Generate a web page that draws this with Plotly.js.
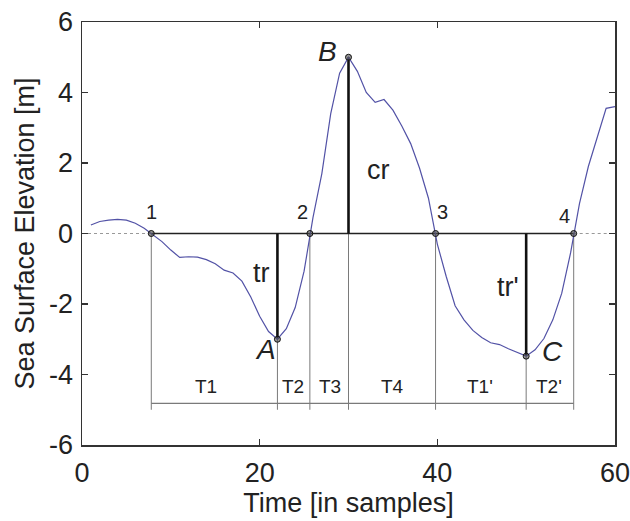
<!DOCTYPE html>
<html>
<head>
<meta charset="utf-8">
<script src="https://cdn.plot.ly/plotly-3.0.1.min.js"></script>
<style>html,body{margin:0;padding:0;background:#fff;}#chart{width:630px;height:521px;}</style>
</head>
<body>
<div id="chart"></div>
<script>
// ---- data ----
const time = [];
for (let i = 1; i <= 60; i++) time.push(i);
const elevation = [
  0.24, 0.34, 0.38, 0.40, 0.38, 0.29, 0.15, -0.05, -0.23, -0.47,
  -0.68, -0.66, -0.67, -0.74, -0.86, -1.04, -1.12, -1.35, -1.80, -2.35,
  -2.78, -3.00, -2.70, -2.10, -1.07, 0.45, 1.70, 3.40, 4.55, 5.00,
  4.60, 4.00, 3.72, 3.80, 3.50, 3.05, 2.55, 1.85, 1.00, -0.30,
  -1.22, -2.05, -2.45, -2.75, -2.95, -3.10, -3.15, -3.27, -3.38, -3.48,
  -3.30, -2.98, -2.45, -1.70, -0.55, 0.85, 1.90, 2.75, 3.55, 3.60
];
const crossX = [7.8, 25.65, 39.8, 55.35];       // zero crossings 1..4
const crossLabels = ['1', '2', '3', '4'];
const extremaX = [22, 30, 50];                  // A, B, C
const extremaY = [-3.0, 5.0, -3.48];
const extremaLabels = ['A', 'B', 'C'];
const heightLabels = ['tr', 'cr', "tr'"];
const periodLabels = ['T1', 'T2', 'T3', 'T4', "T1'", "T2'"];
const bracketY = -4.82;
const bracketBottom = -5.0;
const xTicks = [0, 20, 40, 60];
const yTicks = [-6, -4, -2, 0, 2, 4, 6];

// ---- traces ----
const traces = [];
traces.push({x: [0, crossX[0], null, crossX[3], 60], y: [0, 0, null, 0, 0], mode: 'lines',
  line: {color: '#999', width: 1.2, dash: 'dot'}, hoverinfo: 'skip'});
const allV = [crossX[0], extremaX[0], crossX[1], extremaX[1], crossX[2], extremaX[2], crossX[3]].sort((a,b)=>a-b);
const vx = [], vy = [];
allV.forEach(v => { vx.push(v, v, null); vy.push(0, bracketBottom, null); });
traces.push({x: vx, y: vy, mode: 'lines', line: {color: '#7a7a7a', width: 1}, hoverinfo: 'skip'});
traces.push({x: [crossX[0], crossX[3]], y: [bracketY, bracketY], mode: 'lines',
  line: {color: '#7a7a7a', width: 1.2}, hoverinfo: 'skip'});
traces.push({x: [crossX[0], crossX[3]], y: [0, 0], mode: 'lines',
  line: {color: '#222', width: 1.6}, hoverinfo: 'skip'});
const hx = [], hy = [];
extremaX.forEach((v, i) => { hx.push(v, v, null); hy.push(0, extremaY[i], null); });
traces.push({x: hx, y: hy, mode: 'lines', line: {color: '#111', width: 2.6}, hoverinfo: 'skip'});
traces.push({x: time, y: elevation, mode: 'lines', line: {color: '#5252a6', width: 1.2}});
traces.push({x: crossX.concat(extremaX), y: crossX.map(()=>0).concat(extremaY), mode: 'markers',
  marker: {size: 6, color: 'rgba(80,80,80,0.6)', line: {color: '#111', width: 1}}, hoverinfo: 'skip'});

// ---- annotations ----
const font = 'Liberation Sans, Arial, Helvetica, sans-serif';
const ann = [];
const crossLabelPos = [[7.8, 0.62], [24.8, 0.62], [40.6, 0.62], [54.3, 0.5]];
crossLabels.forEach((t, i) => ann.push({x: crossLabelPos[i][0], y: crossLabelPos[i][1], text: t,
  showarrow: false, font: {size: 20, color: '#222', family: font}}));
const extLabelPos = [[20.6, -3.3], [27.6, 5.15], [53.0, -3.35]];
extremaLabels.forEach((t, i) => ann.push({x: extLabelPos[i][0], y: extLabelPos[i][1],
  text: '<i>' + t + '</i>', showarrow: false, font: {size: 28, color: '#222', family: font}}));
const hLabelPos = [[20.2, -1.12], [33.4, 1.8], [48.0, -1.52]];
heightLabels.forEach((t, i) => ann.push({x: hLabelPos[i][0], y: hLabelPos[i][1], text: t,
  showarrow: false, font: {size: 27, color: '#222', family: font}}));
const pLabelX = [14.0, 23.8, 27.9, 35.0, 44.85, 52.6];
periodLabels.forEach((t, i) => ann.push({x: pLabelX[i], y: -4.33, text: t,
  showarrow: false, font: {size: 19, color: '#222', family: font}}));

const axisCommon = {
  showline: true, linecolor: '#333', linewidth: 1.5, mirror: 'ticks',
  ticks: 'inside', ticklen: 6, tickcolor: '#333', tickwidth: 1.2,
  showgrid: false, zeroline: false, ticklabeloverflow: 'allow',
  tickfont: {size: 27, color: '#222', family: font}
};

const layout = {
  width: 630, height: 521,
  margin: {l: 82, r: 15, t: 22, b: 76},
  paper_bgcolor: '#fff', plot_bgcolor: '#fff',
  showlegend: false,
  xaxis: Object.assign({}, axisCommon, {range: [0, 60], tickvals: xTicks,
    ticktext: xTicks.map(String), ticklabelstandoff: 3,
    title: {text: 'Time [in samples]', font: {size: 27, color: '#222', family: font}, standoff: 6}}),
  yaxis: Object.assign({}, axisCommon, {range: [-6, 6], tickvals: yTicks,
    ticktext: yTicks.map(String), ticklabelstandoff: 2,
    title: {text: 'Sea Surface Elevation [m]', font: {size: 27, color: '#222', family: font}, standoff: 6}}),
  annotations: ann
};

Plotly.newPlot('chart', traces, layout, {staticPlot: true, displayModeBar: false});
</script>
</body>
</html>
